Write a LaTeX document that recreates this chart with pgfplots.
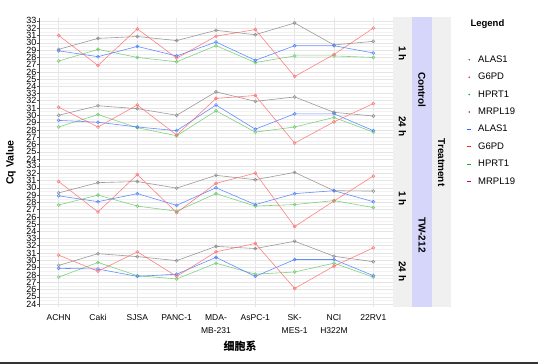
\documentclass[border=0pt]{standalone}
\usepackage{fontspec}
\setmainfont{Liberation Sans}
\newfontfamily\cjk{Noto Sans CJK SC}
\usepackage{pgfplots}
\usepackage{pgfplotstable}
\pgfplotsset{compat=1.18}
\definecolor{cblue}{RGB}{60,115,255}
\definecolor{cred}{RGB}{255,100,100}
\definecolor{cgreen}{RGB}{95,200,95}
\definecolor{cgray}{RGB}{130,130,130}
\definecolor{lblue}{RGB}{31,119,180}
\definecolor{lred}{RGB}{255,40,40}
\definecolor{lgreen}{RGB}{30,170,50}
\definecolor{lmag}{RGB}{200,0,120}
\definecolor{dblue}{RGB}{40,100,255}
\definecolor{stripgray}{RGB}{240,240,240}
\definecolor{striplav}{RGB}{214,214,250}

\pgfplotstableread{
x A G H M
1 28.9 31.0 27.5 29.1
2 28.1 26.9 29.1 30.6
3 29.5 31.9 28.0 30.85
4 28.2 27.9 27.4 30.3
5 30.1 30.9 29.6 31.7
6 27.6 31.8 27.3 31.1
7 29.6 25.4 28.2 32.7
8 29.6 28.4 28.2 29.7
9 28.6 32.0 28.0 30.2
}\pA
\pgfplotstableread{
x A G H M
1 29.3 31.1 28.4 30.0
2 29.05 28.4 30.1 31.3
3 28.4 31.4 28.3 30.9
4 27.9 27.3 27.2 30.0
5 31.4 32.3 30.6 33.2
6 28.1 32.7 27.7 31.9
7 30.2 26.2 28.4 32.5
8 30.2 29.1 29.7 30.4
9 27.9 31.6 27.7 29.9
}\pB
\pgfplotstableread{
x A G H M
1 28.9 30.85 27.65 29.3
2 28.1 26.7 29.0 30.7
3 29.2 31.8 27.5 30.85
4 27.6 26.6 26.8 29.95
5 30.0 30.6 29.2 31.7
6 27.7 32.0 27.5 31.1
7 29.2 24.7 27.7 32.1
8 29.6 28.2 28.25 29.6
9 28.1 31.6 27.3 29.55
}\pC
\pgfplotstableread{
x A G H M
1 28.9 30.7 27.7 29.3
2 28.8 28.5 29.7 30.9
3 27.8 31.15 27.9 30.5
4 28.1 27.8 27.45 29.95
5 30.4 31.15 29.6 31.9
6 27.8 32.3 28.1 31.6
7 30.1 26.15 28.4 32.6
8 30.1 29.2 29.6 30.55
9 27.9 31.7 27.7 29.8
}\pD

\pgfplotsset{
  panel/.style={
    scale only axis, width=354pt, height=72.5pt,
    xmin=0.5, xmax=9.5, ymin=23.55, ymax=33.45,
    xtick={1,...,9}, ytick={24,...,33},
    minor ytick={24.5,25.5,...,32.5},
    grid=both,
    major grid style={gray!20, line width=0.5pt},
    minor grid style={gray!10, line width=0.3pt},
    axis y line=left, axis x line=bottom,
    x axis line style={draw=none},
    y axis line style={-, draw=gray!60!black, line width=0.6pt},
    major x tick style={draw=none},
    minor tick length=0pt,
    major tick length=2pt,
    tick align=outside,
    major y tick style={draw=gray!60!black, line width=0.5pt},
    /pgf/number format/assume math mode=true,
    y tick label style={font=\fontsize{9}{9}\selectfont, inner sep=0.5pt},
    xticklabels={},
    clip=false,
  },
  ser/.style={forget plot, draw=#1, line width=0.6pt, draw opacity=0.8,
    mark=o, mark size=1.5pt, mark options={solid, draw=#1}},
}

\newcommand{\drawpanel}[1]{%
  \addplot[ser=cgray] table[x=x,y=M]{#1};
  \addplot[ser=cgreen] table[x=x,y=H]{#1};
  \addplot[ser=cblue] table[x=x,y=A]{#1};
  \addplot[ser=cred] table[x=x,y=G]{#1};
}

\begin{document}
\begin{tikzpicture}[x=1pt,y=1pt]
\path[use as bounding box] (0,0) rectangle (538,364);
% strips
\fill[stripgray] (393,56.5) rectangle (412,346.5);
\fill[striplav] (412,56.5) rectangle (432,346.5);
\fill[stripgray] (432,56.5) rectangle (451,346.5);

\begin{axis}[panel, at={(39pt,274pt)}, anchor=south west,
  legend style={at={(1,1)}, anchor=north west, xshift=74pt, yshift=-37pt,
    draw=none, fill=none, font=\fontsize{9.5}{9.5}\selectfont, row sep=7.3pt,
    inner sep=0pt, nodes={inner sep=1pt}},
  legend cell align=left]
\drawpanel{\pA}
\addlegendimage{mark=none, legend image code/.code={\path[draw=none,fill=none] (-2pt,0) -- (8pt,0); \fill[lblue, draw=none] (0,0) circle (0.9pt);}}
\addlegendentry{ALAS1}
\addlegendimage{mark=none, legend image code/.code={\path[draw=none,fill=none] (-2pt,0) -- (8pt,0); \fill[lred, draw=none] (0,0) circle (0.9pt);}}
\addlegendentry{G6PD}
\addlegendimage{mark=none, legend image code/.code={\path[draw=none,fill=none] (-2pt,0) -- (8pt,0); \fill[lgreen, draw=none] (0,0) circle (0.9pt);}}
\addlegendentry{HPRT1}
\addlegendimage{mark=none, legend image code/.code={\path[draw=none,fill=none] (-2pt,0) -- (8pt,0); \fill[lmag, draw=none] (0,0) circle (0.9pt);}}
\addlegendentry{MRPL19}
\addlegendimage{mark=none, legend image code/.code={\path[draw=none,fill=none] (-2pt,0) -- (8pt,0); \fill[dblue, draw=none] (-2pt,-0.6pt) rectangle (2pt,0.6pt);}}
\addlegendentry{ALAS1}
\addlegendimage{mark=none, legend image code/.code={\path[draw=none,fill=none] (-2pt,0) -- (8pt,0); \fill[lred, draw=none] (-2pt,-0.6pt) rectangle (2pt,0.6pt);}}
\addlegendentry{G6PD}
\addlegendimage{mark=none, legend image code/.code={\path[draw=none,fill=none] (-2pt,0) -- (8pt,0); \fill[lgreen, draw=none] (-2pt,-0.6pt) rectangle (2pt,0.6pt);}}
\addlegendentry{HPRT1}
\addlegendimage{mark=none, legend image code/.code={\path[draw=none,fill=none] (-2pt,0) -- (8pt,0); \fill[lmag, draw=none] (-2pt,-0.6pt) rectangle (2pt,0.6pt);}}
\addlegendentry{MRPL19}
\end{axis}

\begin{axis}[panel, at={(39pt,201.5pt)}, anchor=south west]
\drawpanel{\pB}
\end{axis}

\begin{axis}[panel, at={(39pt,129pt)}, anchor=south west]
\drawpanel{\pC}
\end{axis}

\begin{axis}[panel, at={(39pt,56.5pt)}, anchor=south west,
  xticklabels={\strut ACHN, \strut Caki, \strut SJSA, \strut PANC-1, {\strut MDA-\\MB-231}, \strut AsPC-1, {\strut SK-\\MES-1}, {\strut NCI\\H322M}, \strut 22RV1},
  x tick label style={font=\fontsize{8.5}{13}\selectfont, align=center, anchor=north, yshift=2pt}]
\drawpanel{\pD}
\end{axis}

% strip labels
\begin{scope}[font=\bfseries\fontsize{10}{10}\selectfont]
\node[rotate=-90] at (402.5,310.25) {1 h};
\node[rotate=-90] at (402.5,237.75) {24 h};
\node[rotate=-90] at (402.5,165.25) {1 h};
\node[rotate=-90] at (402.5,92.75) {24 h};
\node[rotate=-90] at (422,274) {Control};
\node[rotate=-90] at (422,129) {TW-212};
\node[rotate=-90] at (441.5,201.5) {Treatment};
\end{scope}
\node[rotate=90, font=\bfseries\fontsize{10.5}{10.5}\selectfont] at (11,201.5) {Cq Value};
\node[font=\cjk\bfseries\fontsize{11}{11}\selectfont] at (240,18) {细胞系};
\node[anchor=west, font=\bfseries\fontsize{9.5}{9.5}\selectfont] at (467,340) {Legend};
\draw[black!80, line width=1.5pt] (0,1.2) -- (538,1.2);
\end{tikzpicture}
\end{document}
